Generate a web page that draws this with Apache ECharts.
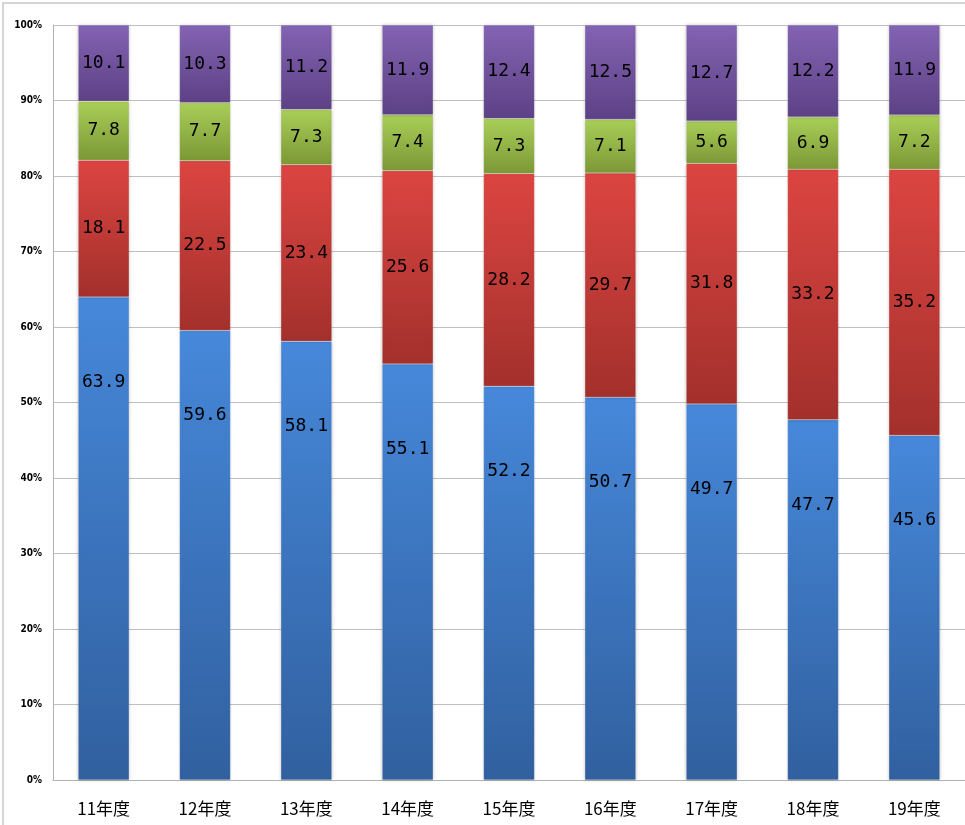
<!DOCTYPE html>
<html>
<head>
<meta charset="utf-8">
<script src="https://cdn.jsdelivr.net/npm/echarts@6/dist/echarts.min.js"></script>
<style>
  html, body { margin: 0; padding: 0; background: #fff; }
  #chart { width: 965px; height: 825px; }
</style>
</head>
<body>
<div id="chart"></div>
<script>
  let categories = ['11年度', '12年度', '13年度', '14年度', '15年度', '16年度', '17年度', '18年度', '19年度']
  let blueValues = [63.9, 59.6, 58.1, 55.1, 52.2, 50.7, 49.7, 47.7, 45.6]
  let redValues = [18.1, 22.5, 23.4, 25.6, 28.2, 29.7, 31.8, 33.2, 35.2]
  let greenValues = [7.8, 7.7, 7.3, 7.4, 7.3, 7.1, 5.6, 6.9, 7.2]
  let purpleValues = [10.1, 10.3, 11.2, 11.9, 12.4, 12.5, 12.7, 12.2, 11.9]
  let yTicks = ['0%', '10%', '20%', '30%', '40%', '50%', '60%', '70%', '80%', '90%', '100%']

  let totals = categories.map((c, i) => blueValues[i] + redValues[i] + greenValues[i] + purpleValues[i])
  let toPercent = arr => arr.map((v, i) => ({ value: v / totals[i] * 100, raw: v }))

  let grad = (top, bottom) => new echarts.graphic.LinearGradient(0, 0, 0, 1, [
    { offset: 0, color: top },
    { offset: 1, color: bottom }
  ])

  let labelStyle = {
    show: true,
    color: '#000',
    fontFamily: 'DejaVu Sans Mono',
    fontSize: 18,
    formatter: p => p.data.raw.toFixed(1)
  }

  function makeSeries(name, values, top, bottom, label) {
    return {
      name: name,
      type: 'bar',
      stack: 'total',
      barWidth: 51,
      data: toPercent(values),
      itemStyle: {
        color: grad(top, bottom),
        borderColor: 'rgba(255,255,255,0.35)',
        borderWidth: 0.5,
        shadowColor: 'rgba(0,0,0,0.25)',
        shadowBlur: 3
      },
      label: Object.assign({}, labelStyle, label || {})
    }
  }

  let chart = echarts.init(document.getElementById('chart'))
  chart.setOption({
    animation: false,
    graphic: [{
      type: 'rect',
      shape: { x: 3, y: 3, width: 980, height: 840 },
      style: { fill: 'none', stroke: '#c8c8c8', lineWidth: 1.5 }
    }],
    grid: { left: 53, right: 0, top: 25, bottom: 45 },
    xAxis: {
      type: 'category',
      data: categories,
      axisTick: { show: false },
      axisLine: { lineStyle: { color: '#b0b0b0' } },
      axisLabel: { color: '#000', fontSize: 17, margin: 20, fontFamily: 'Noto Sans CJK JP' }
    },
    yAxis: {
      type: 'value',
      min: 0,
      max: 100,
      interval: 10,
      axisLine: { show: true, lineStyle: { color: '#b0b0b0' } },
      axisTick: { show: false },
      splitLine: { lineStyle: { color: '#c0c0c0' } },
      axisLabel: {
        color: '#000',
        fontSize: 10,
        fontWeight: 900,
        fontFamily: 'DejaVu Sans Condensed',
        margin: 11,
        formatter: v => yTicks[Math.round(v / 10)]
      }
    },
    series: [
      makeSeries('blue', blueValues, '#4688da', '#31609f', { position: 'insideTop', distance: 76 }),
      makeSeries('red', redValues, '#dc4541', '#a3302c'),
      makeSeries('green', greenValues, '#a9ce58', '#7c9836'),
      makeSeries('purple', purpleValues, '#8363b3', '#5d4185')
    ]
  })
</script>
</body>
</html>
